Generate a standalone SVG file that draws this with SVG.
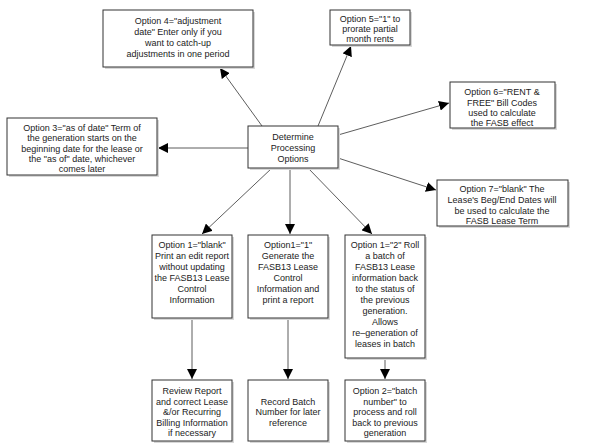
<svg xmlns="http://www.w3.org/2000/svg" width="595" height="448" viewBox="0 0 595 448">
<style>
.bx{fill:#fff;stroke:#333;stroke-width:1}
.sh{fill:#d8d8d8}
.t{font-family:"Liberation Sans",Arial,sans-serif;font-size:9px;fill:#222;text-anchor:middle}
.c{stroke:#333;stroke-width:0.8;fill:none;marker-end:url(#ah)}
.p{stroke:#333;stroke-width:0.8;fill:none}
</style>
<defs>
<marker id="ah" viewBox="0 0 10 10" refX="10" refY="5" markerWidth="10" markerHeight="10" markerUnits="userSpaceOnUse" orient="auto">
<path d="M0,0 L10,5 L0,10 z" fill="#000"/>
</marker>
</defs>
<rect width="595" height="448" fill="#fff"/>
<g id="connectors">
<line class="c" x1="262" y1="126" x2="220" y2="68"/>
<line class="c" x1="318" y1="126" x2="351" y2="46"/>
<line class="c" x1="338" y1="135" x2="449" y2="103"/>
<line class="c" x1="248" y1="148" x2="158" y2="148"/>
<line class="c" x1="338" y1="158" x2="436" y2="190"/>
<line class="c" x1="272" y1="168" x2="202" y2="234"/>
<line class="c" x1="290" y1="168" x2="290" y2="234"/>
<line class="c" x1="308" y1="168" x2="372" y2="234"/>
<line class="c" x1="192" y1="318" x2="192" y2="379"/>
<line class="c" x1="288" y1="318" x2="288" y2="379"/>
<line class="c" x1="385" y1="358" x2="385" y2="379"/>
</g>
<g id="center">
<rect class="sh" x="250" y="128" width="90" height="42"/>
<rect class="bx" x="248" y="126" width="90" height="42"/>
<text class="t" x="293" y="140">Determine</text>
<text class="t" x="293" y="151">Processing</text>
<text class="t" x="293" y="162">Options</text>
</g>
<g id="opt4">
<rect class="sh" x="105" y="12" width="150" height="57"/>
<rect class="bx" x="103" y="10" width="150" height="57"/>
<text class="t" x="178" y="24">Option 4="adjustment</text>
<text class="t" x="178" y="35">date" Enter only if you</text>
<text class="t" x="178" y="46">want to catch-up</text>
<text class="t" x="178" y="57">adjustments in one period</text>
</g>
<g id="opt5">
<rect class="sh" x="332" y="12" width="80" height="35"/>
<rect class="bx" x="330" y="10" width="80" height="35"/>
<text class="t" x="370" y="22">Option 5="1" to</text>
<text class="t" x="370" y="32">prorate partial</text>
<text class="t" x="370" y="42">month rents</text>
</g>
<g id="opt6">
<rect class="sh" x="452" y="84" width="105" height="46"/>
<rect class="bx" x="450" y="82" width="105" height="46"/>
<text class="t" x="502" y="95">Option 6="RENT &amp;</text>
<text class="t" x="502" y="106">FREE" Bill Codes</text>
<text class="t" x="502" y="116">used to calculate</text>
<text class="t" x="502" y="126">the FASB effect</text>
</g>
<g id="opt3">
<rect class="sh" x="9" y="120" width="150" height="57"/>
<rect class="bx" x="7" y="118" width="150" height="57"/>
<text class="t" x="82" y="131">Option 3="as of date" Term of</text>
<text class="t" x="82" y="141">the generation starts on the</text>
<text class="t" x="82" y="152">beginning date for the lease or</text>
<text class="t" x="82" y="162">the "as of" date, whichever</text>
<text class="t" x="82" y="172">comes later</text>
</g>
<g id="opt7">
<rect class="sh" x="439" y="182" width="131" height="46"/>
<rect class="bx" x="437" y="180" width="131" height="46"/>
<text class="t" x="502" y="192">Option  7="blank" The</text>
<text class="t" x="502" y="203">Lease's Beg/End Dates will</text>
<text class="t" x="502" y="214">be used to calculate the</text>
<text class="t" x="502" y="224">FASB Lease Term</text>
</g>
<g id="opt1blank">
<rect class="sh" x="154" y="237" width="80" height="83"/>
<rect class="bx" x="152" y="235" width="80" height="83"/>
<text class="t" x="192" y="248">Option 1="blank"</text>
<text class="t" x="192" y="259">Print an edit report</text>
<text class="t" x="192" y="270">without updating</text>
<text class="t" x="192" y="281">the FASB13 Lease</text>
<text class="t" x="192" y="292">Control</text>
<text class="t" x="192" y="303">Information</text>
</g>
<g id="opt1one">
<rect class="sh" x="250" y="237" width="80" height="83"/>
<rect class="bx" x="248" y="235" width="80" height="83"/>
<text class="t" x="288" y="248">Option1="1"</text>
<text class="t" x="288" y="259">Generate the</text>
<text class="t" x="288" y="270">FASB13 Lease</text>
<text class="t" x="288" y="281">Control</text>
<text class="t" x="288" y="292">Information and</text>
<text class="t" x="288" y="303">print a report</text>
</g>
<g id="opt1two">
<rect class="sh" x="347" y="237" width="80" height="123"/>
<rect class="bx" x="345" y="235" width="80" height="123"/>
<text class="t" x="385" y="248">Option 1="2" Roll</text>
<text class="t" x="385" y="259">a batch of</text>
<text class="t" x="385" y="270">FASB13 Lease</text>
<text class="t" x="385" y="281">information back</text>
<text class="t" x="385" y="292">to the status of</text>
<text class="t" x="385" y="303">the previous</text>
<text class="t" x="385" y="314">generation.</text>
<text class="t" x="385" y="325">Allows</text>
<text class="t" x="385" y="336">re–generation of</text>
<text class="t" x="385" y="347">leases in batch</text>
</g>
<g id="review">
<rect class="sh" x="154" y="382" width="80" height="61"/>
<rect class="bx" x="152" y="380" width="80" height="61"/>
<text class="t" x="192" y="394">Review Report</text>
<text class="t" x="192" y="405">and correct Lease</text>
<text class="t" x="192" y="415">&amp;/or Recurring</text>
<text class="t" x="192" y="426">Billing Information</text>
<text class="t" x="192" y="436">if necessary</text>
</g>
<g id="record">
<rect class="sh" x="250" y="382" width="80" height="61"/>
<rect class="bx" x="248" y="380" width="80" height="61"/>
<text class="t" x="288" y="405">Record Batch</text>
<text class="t" x="288" y="415">Number for later</text>
<text class="t" x="288" y="426">reference</text>
</g>
<g id="opt2">
<rect class="sh" x="347" y="382" width="80" height="61"/>
<rect class="bx" x="345" y="380" width="80" height="61"/>
<text class="t" x="385" y="394">Option 2="batch</text>
<text class="t" x="385" y="405">number" to</text>
<text class="t" x="385" y="415">process and roll</text>
<text class="t" x="385" y="426">back to previous</text>
<text class="t" x="385" y="436">generation</text>
</g>
</svg>
